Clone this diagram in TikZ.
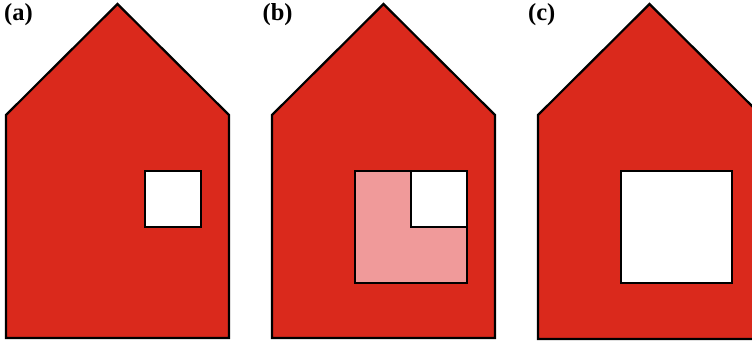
\documentclass[tikz,border=0pt]{standalone}
\usepackage{fontspec}
\setmainfont{Liberation Serif}
\definecolor{acred}{HTML}{DA291C}
\definecolor{acpink}{HTML}{F09A9A}

\begin{document}
\begin{tikzpicture}[
  x=1pt, y=-1pt,
  wall/.style={draw=black, fill=acred, line width=2.2pt, line join=miter},
  hole/.style={draw=black, fill=white, line width=2.2pt},
  shade/.style={draw=black, fill=acpink, line width=2.2pt},
  tag/.style={font=\fontsize{24.5}{24.5}\selectfont\bfseries, inner sep=0pt, anchor=west},
]
  \useasboundingbox (0, 0) rectangle (752, 341);
  \clip (0, 0) rectangle (752, 341);

  % house a
  \draw[wall] (117.5, 4) -- (229, 115) -- (229, 338) -- (6, 338) -- (6, 115) -- cycle;
  \draw[hole] (145, 171) rectangle (201, 227);

  % house b
  \draw[wall] (383.5, 4) -- (495, 115) -- (495, 338) -- (272, 338) -- (272, 115) -- cycle;
  \draw[shade] (355, 171) rectangle (467, 283);
  \draw[hole] (411, 171) rectangle (467, 227);

  % house c
  \draw[wall] (649.5, 4) -- (761, 115) -- (761, 339) -- (538, 339) -- (538, 115) -- cycle;
  \draw[hole] (621, 171) rectangle (732, 283);

  \node[tag] (laba) at (4, 15) {(a)};
  \node[tag] (labb) at (262.5, 15) {(b)};
  \node[tag] (labc) at (528, 15) {(c)};
\end{tikzpicture}
\end{document}
